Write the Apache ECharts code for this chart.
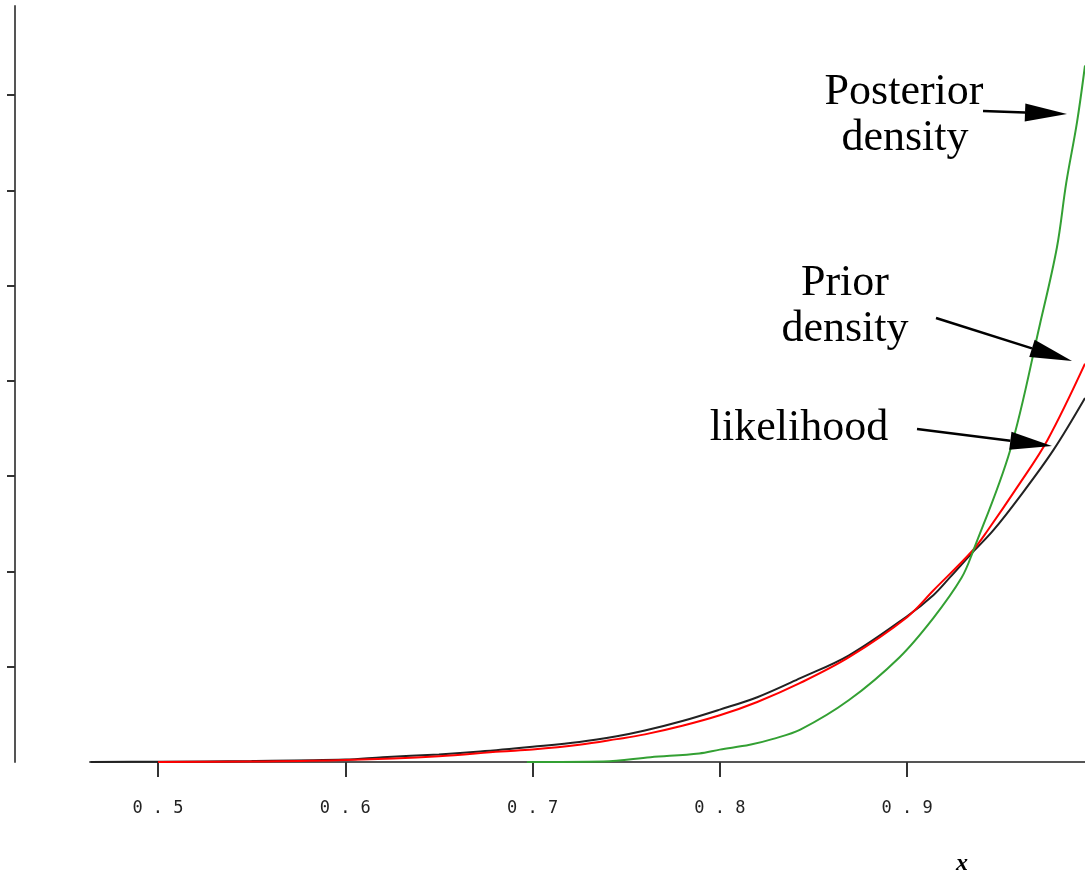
<!DOCTYPE html>
<html>
<head>
<meta charset="utf-8">
<script src="https://cdn.jsdelivr.net/npm/echarts@6/dist/echarts.min.js"></script>
<style>
  html, body { margin: 0; padding: 0; background: #fff; }
  #chart { width: 1085px; height: 876px; }
</style>
</head>
<body>
<div id="chart"></div>
<script>
// values (y in units of one y-axis tick)
var xTicks = [0.5, 0.6, 0.7, 0.8, 0.9];
var yTicks = [1, 2, 3, 4, 5, 6, 7];

var likelihoodX = [0.464, 0.5, 0.55, 0.6, 0.62, 0.65, 0.672, 0.7, 0.725, 0.745, 0.76, 0.78, 0.8, 0.82, 0.843, 0.869, 0.9, 0.914, 0.923, 0.935, 0.946, 0.96, 0.978, 0.995];
var likelihoodY = [0, 0.003, 0.01, 0.025, 0.05, 0.08, 0.11, 0.16, 0.21, 0.27, 0.33, 0.43, 0.55, 0.68, 0.88, 1.12, 1.53, 1.75, 1.94, 2.2, 2.43, 2.78, 3.27, 3.82];

var priorX = [0.5, 0.55, 0.6, 0.65, 0.683, 0.7, 0.725, 0.745, 0.76, 0.78, 0.8, 0.82, 0.843, 0.869, 0.9, 0.914, 0.935, 0.943, 0.959, 0.975, 0.995];
var priorY = [0, 0.005, 0.02, 0.06, 0.11, 0.13, 0.18, 0.24, 0.29, 0.38, 0.49, 0.63, 0.83, 1.1, 1.52, 1.8, 2.22, 2.43, 2.89, 3.38, 4.18];

var posteriorX = [0.697, 0.738, 0.763, 0.789, 0.8, 0.816, 0.828, 0.843, 0.869, 0.896, 0.914, 0.929, 0.935, 0.955, 0.971, 0.98, 0.985, 0.9907, 0.995];
var posteriorY = [0, 0.005, 0.05, 0.09, 0.13, 0.18, 0.24, 0.34, 0.65, 1.1, 1.51, 1.93, 2.2, 3.27, 4.6, 5.4, 6.08, 6.71, 7.31];

function zip(xs, ys) {
  return xs.map(function (x, i) { return [x, ys[i]]; });
}

// arrow = shaft + filled head, given start and tip in pixels
function arrow(x0, y0, x1, y1) {
  var dx = x1 - x0, dy = y1 - y0;
  var len = Math.sqrt(dx * dx + dy * dy);
  var ux = dx / len, uy = dy / len;
  var hl = 42, hw = 9;
  var bx = x1 - ux * hl, by = y1 - uy * hl;
  return [
    { type: 'line', z: 100, shape: { x1: x0, y1: y0, x2: bx, y2: by }, style: { stroke: '#000', lineWidth: 2.5 } },
    { type: 'polygon', z: 100, shape: { points: [[x1, y1], [bx - uy * hw, by + ux * hw], [bx + uy * hw, by - ux * hw]] }, style: { fill: '#000' } }
  ];
}

function label(text, cx, cy) {
  return {
    type: 'text', z: 100, x: cx, y: cy,
    style: { text: text, fill: '#000', font: '44px "Liberation Serif"', align: 'center', verticalAlign: 'middle' }
  };
}

var chart = echarts.init(document.getElementById('chart'));

var option = {
  animation: false,
  backgroundColor: '#fff',
  grid: { left: 90, right: 0, top: 6, bottom: 114 },
  xAxis: {
    type: 'value',
    min: 0.4637,
    max: 0.995,
    splitLine: { show: false },
    axisLine: { lineStyle: { color: '#555', width: 2 } },
    axisTick: { customValues: xTicks, length: 15, lineStyle: { color: '#333', width: 2 } },
    axisLabel: {
      customValues: xTicks,
      margin: 38,
      fontFamily: 'DejaVu Sans Mono',
      fontSize: 17,
      color: '#222',
      formatter: function (v) { return v.toFixed(1).split('').join(' '); }
    }
  },
  yAxis: {
    type: 'value',
    min: 0,
    max: 7.934,
    offset: 75,
    splitLine: { show: false },
    axisLine: { show: true, lineStyle: { color: '#555', width: 2 } },
    axisTick: { show: true, customValues: yTicks, length: 8, lineStyle: { color: '#333', width: 2 } },
    axisLabel: { show: false }
  },
  series: [
    {
      name: 'likelihood', type: 'line', showSymbol: false,
      smooth: 0.35,
      lineStyle: { color: '#222', width: 2 },
      data: zip(likelihoodX, likelihoodY)
    },
    {
      name: 'Prior density', type: 'line', showSymbol: false,
      smooth: 0.35,
      lineStyle: { color: '#ff0000', width: 2 },
      data: zip(priorX, priorY)
    },
    {
      name: 'Posterior density', type: 'line', showSymbol: false,
      smooth: 0.35,
      lineStyle: { color: '#33a033', width: 2 },
      data: zip(posteriorX, posteriorY)
    }
  ],
  graphic: [].concat(
    [label('Posterior', 904, 92), label('density', 905, 138)],
    arrow(983, 111, 1067, 114),
    [label('Prior', 845, 283), label('density', 845, 329)],
    arrow(936, 318, 1072, 361),
    [label('likelihood', 799, 428)],
    arrow(917, 429, 1052, 446),
    [{
      type: 'text', x: 962, y: 864,
      style: { text: 'x', fill: '#000', font: 'italic bold 24px "Liberation Serif"', align: 'center', verticalAlign: 'middle' }
    }]
  )
};

chart.setOption(option);
</script>
</body>
</html>
